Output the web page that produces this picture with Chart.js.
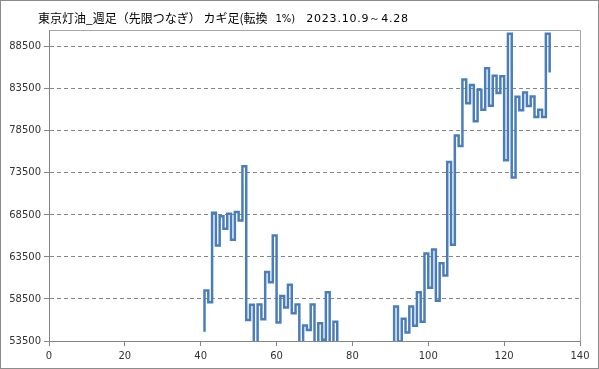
<!DOCTYPE html>
<html>
<head>
<meta charset="utf-8">
<script src="https://cdn.jsdelivr.net/npm/chart.js@4"></script>
<style>
  html, body { margin: 0; padding: 0; background: #fff; }
  #wrap { width: 599px; height: 369px; position: relative; }
</style>
</head>
<body>
<div id="wrap"><canvas id="grafico" width="599" height="369"></canvas></div>
<script>
// Dados da carta Kagi (semana inicial, preço inicial e cada virada)
const tituloPrincipal = '東京灯油_週足（先限つなぎ） カギ足(転換';
const tituloParam = '1%)';
const tituloPeriodo = '2023.10.9～4.28';

const semanaInicial = 41;
const precoInicial = 54600;
const precosKagi = [
    59500, 58100, 68750, 64850, 68350, 66850, 68650, 65550, 68850, 67850, // 41-50
    74300, 56000, 57800, 53000, 57850, 56100, 61700, 60500, 66050, 55700, // 51-60
    58850, 57500, 60200, 56800, 57850, 52900, 55350, 54800, 57850, 53100, // 61-70
    55600, 53650, 59300, 52800, 55800, 52500, 53200, 51800, 52600, 51000, // 71-80
    52000, 50500, 51500, 50200, 51800, 50800, 52400, 51500, 53000, 52000, // 81-90
    57600, 53450, 56150, 54500, 57600, 55300, 59300, 55800, 63900, 59850, // 91-100
    64400, 58300, 62750, 61300, 74800, 64950, 77950, 76700, 84600, 81800, // 101-110
    83950, 79650, 83400, 81000, 85950, 81500, 85050, 83000, 85000, 75000, // 111-120
    90050, 72950, 82550, 80950, 83050, 81450, 82600, 80150, 81000, 80150, // 121-130
    90050, 85450                                                          // 131-132
];

const ticksX = [0, 20, 40, 60, 80, 100, 120, 140];
const ticksY = [53500, 58500, 63500, 68500, 73500, 78500, 83500, 88500];

// Monta os pontos: começa no preço inicial e cada semana recebe uma virada
const pontos = [{ x: semanaInicial, y: precoInicial }];
precosKagi.forEach((p, i) => pontos.push({ x: semanaInicial + i, y: p }));

// Plugin: título com dois tamanhos de fonte + molduras
const molduraPlugin = {
    id: 'moldura',
    afterDraw(chart) {
        const ctx = chart.ctx;
        const a = chart.chartArea;
        ctx.save();
        // moldura da área do gráfico (topo e direita)
        ctx.strokeStyle = '#a6a6a6';
        ctx.lineWidth = 1;
        ctx.beginPath();
        ctx.moveTo(Math.round(a.left) + 0.5, Math.round(a.top) + 0.5);
        ctx.lineTo(Math.round(a.right) + 0.5, Math.round(a.top) + 0.5);
        ctx.lineTo(Math.round(a.right) + 0.5, Math.round(a.bottom) + 0.5);
        ctx.stroke();
        // borda externa
        ctx.strokeStyle = '#8c8c8c';
        ctx.strokeRect(0.5, 0.5, chart.width - 1, chart.height - 1);

        // título
        ctx.fillStyle = '#000';
        ctx.textBaseline = 'middle';
        let x = 38;
        const y = 18;
        ctx.font = '12px "Noto Sans CJK JP"';
        ctx.fillText(tituloPrincipal, x, y);
        x += ctx.measureText(tituloPrincipal).width + 8;
        ctx.font = '10px "DejaVu Sans"';
        ctx.fillText(tituloParam, x, y + 1);
        x += ctx.measureText(tituloParam).width + 11;
        ctx.font = '11px "DejaVu Sans"';
        ctx.letterSpacing = '0.8px';
        ctx.fillText(tituloPeriodo, x, y + 1);
        ctx.restore();
    }
};

new Chart(document.getElementById('grafico'), {
    type: 'line',
    data: {
        datasets: [{
            data: pontos,
            stepped: 'before',
            borderColor: '#4A7EBB',
            borderWidth: 2.5,
            pointRadius: 0,
            fill: false,
            clip: 0,
            borderJoinStyle: 'miter'
        }]
    },
    options: {
        responsive: false,
        animation: false,
        events: [],
        layout: { padding: { top: 30, right: 19, left: 0, bottom: 0 } },
        plugins: { legend: { display: false }, tooltip: { enabled: false } },
        scales: {
            x: {
                type: 'linear',
                min: 0,
                max: 140,
                afterBuildTicks: s => { s.ticks = ticksX.map(v => ({ value: v })); },
                afterFit: s => { s.height = 28; },
                grid: { drawOnChartArea: false, drawTicks: true, tickLength: 5, tickColor: '#868686' },
                border: { color: '#868686' },
                ticks: { color: '#333', font: { family: 'DejaVu Sans', size: 10 }, padding: 4, maxRotation: 0 }
            },
            y: {
                type: 'linear',
                min: 53500,
                max: 90500,
                afterBuildTicks: s => { s.ticks = ticksY.map(v => ({ value: v })); },
                afterFit: s => { s.width = 49; },
                grid: { color: '#868686', tickBorderDash: [], tickLength: 5, tickColor: '#868686' },
                border: { color: '#868686', dash: [4, 3] },
                ticks: { color: '#333', font: { family: 'DejaVu Sans', size: 10 }, padding: 3, callback: v => String(v) }
            }
        }
    },
    plugins: [molduraPlugin]
});
</script>
</body>
</html>
